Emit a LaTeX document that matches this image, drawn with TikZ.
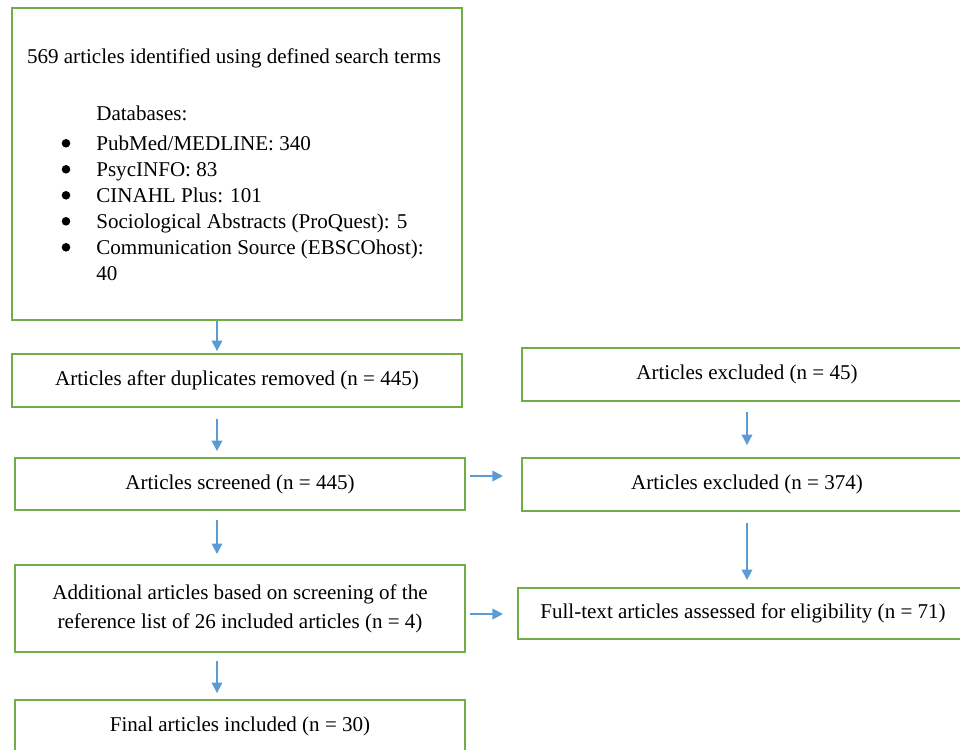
\documentclass[tikz,border=0pt]{standalone}
\usepackage{fontspec}
\setmainfont{Liberation Serif}
\definecolor{prismaGreen}{RGB}{112,173,71}
\definecolor{prismaBlue}{RGB}{91,155,213}
\usetikzlibrary{arrows.meta,calc}
\newcommand{\pxu}{0.57pt}
\newcommand{\dbitem}[1]{\hspace*{18.8pt}#1}

\begin{document}
\begin{tikzpicture}[x=0.57pt, y=-0.57pt,
    pb/.style={rectangle, draw=prismaGreen, line width=1.1pt, font=\fontsize{12}{14.8}\selectfont,
               minimum width=450*\pxu, minimum height=53*\pxu, align=center, inner sep=0pt},
    pt/.style={font=\fontsize{12}{14.8}\selectfont, inner sep=0pt},
    pa/.style={draw=prismaBlue, line width=1.1pt, -{Triangle[length=6pt,width=6pt]}}
  ]
  \useasboundingbox (0,0) rectangle (960,749);
  \clip (0,0) rectangle (960,749);

  % left column
  \node[pb, minimum height=312*\pxu] (search) at (237,164) {};
  \node[pt] (title) at (234,58) {569 articles identified using defined search terms};
  \node[pt, anchor=north west, align=left] (dbs) at (63,106)
    {\dbitem{Databases:}\\[2.3pt]
     \dbitem{PubMed/MEDLINE: 340}\\
     \dbitem{PsycINFO: 83}\\
     \dbitem{CINAHL Plus: 101}\\
     \dbitem{Sociological Abstracts (ProQuest): 5}\\
     \dbitem{Communication Source (EBSCOhost):}\\
     \dbitem{40}};
  % list bullets
  \foreach \i in {0,...,4}
    \fill ($(dbs.north west)+(3,37.3+26*\i)$) circle (4.3);
  \node[pb] (dupl) at (237,380.5) {Articles after duplicates removed (n = 445)};
  \node[pb, minimum height=52*\pxu] (screen) at (240,484) {Articles screened (n = 445)};
  \node[pb, minimum height=87*\pxu, font=\fontsize{12}{16.5}\selectfont] (addit) at (240,608.5)
    {Additional articles based on screening of the\\reference list of 26 included articles (n = 4)};
  \node[pb, minimum height=52*\pxu] (final) at (240,726) {Final articles included (n = 30)};

  % right column
  \node[pb] (excl1) at (747,374.5) {Articles excluded (n = 45)};
  \node[pb] (excl2) at (747,484.5) {Articles excluded (n = 374)};
  \node[pb, minimum height=51*\pxu] (full) at (743,613.5) {Full-text articles assessed for eligibility (n = 71)};

  % arrows
  \draw[pa, shorten >=1.1pt] ([shift={(-20,0)}]search.south) -- ([shift={(-20,0)}]search.south |- dupl.north);
  \draw[pa, shorten <=6.3pt, shorten >=3.4pt] ([shift={(-20,0)}]dupl.south) -- ([shift={(-20,0)}]dupl.south |- screen.north);
  \draw[pa, shorten <=5pt, shorten >=5.7pt] ([shift={(-23,0)}]screen.south) -- ([shift={(-23,0)}]screen.south |- addit.north);
  \draw[pa, shorten <=4.6pt, shorten >=3.4pt] ([shift={(-23,0)}]addit.south) -- ([shift={(-23,0)}]addit.south |- final.north);
  \draw[pa, shorten <=5.7pt, shorten >=6.8pt] (excl1.south) -- (excl2.north);
  \draw[pa, shorten <=6.3pt, shorten >=4pt] (excl2.south) -- (excl2.south |- full.north);
  \draw[pa, shorten <=2.3pt, shorten >=10.3pt] ([shift={(0,-8)}]screen.east) -- ([shift={(0,-8)}]screen.east -| excl2.west);
  \draw[pa, shorten <=2.3pt, shorten >=8pt] ([shift={(0,5.5)}]addit.east) -- ([shift={(0,5.5)}]addit.east -| full.west);
\end{tikzpicture}
\end{document}
